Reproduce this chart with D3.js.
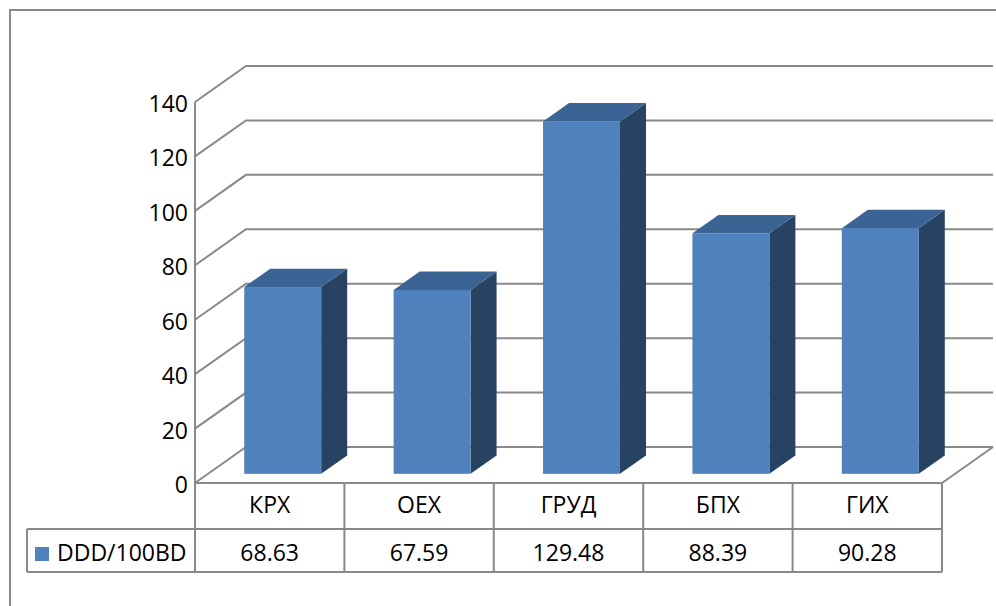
<!DOCTYPE html>
<html>
<head>
<meta charset="utf-8">
<script src="https://cdn.jsdelivr.net/npm/d3@7"></script>
<style>
  html, body { margin: 0; padding: 0; background: #fff; }
  svg { display: block; font-family: "Open Sans", "Liberation Sans", sans-serif; }
</style>
</head>
<body>
<svg id="chart" width="996" height="606"></svg>
<script>
// ---- data ----
const categories = ["КРХ", "ОЕХ", "ГРУД", "БПХ", "ГИХ"];
const seriesName = "DDD/100BD";
const values = [68.63, 67.59, 129.48, 88.39, 90.28];
const valueLabels = ["68.63", "67.59", "129.48", "88.39", "90.28"];
const yTicks = [0, 20, 40, 60, 80, 100, 120, 140];

// ---- layout ----
(function () {
const svg = d3.select("#chart");
const plotLeft = 195, plotRight = 942, plotBottom = 483, plotTop = 102;
const DX = 51, DY = 36;           // depth offset of the back wall
const t0 = 0.255, t1 = 0.765;     // bar front/back depth fractions
const gridColor = "#898989";
const fontSize = 23;

const x = d3.scaleBand().domain(categories).range([plotLeft, plotRight]).padding(0);
const y = d3.scaleLinear().domain([0, 140]).range([plotBottom, plotTop]);

// outer border
svg.append("path")
  .attr("d", `M10,${606 + 5} L10,10 L${996 + 5},10`)
  .attr("fill", "none").attr("stroke", gridColor).attr("stroke-width", 2);

// back wall gridlines and left wall diagonals
const grid = svg.append("g").attr("stroke", gridColor).attr("stroke-width", 2).attr("fill", "none");
yTicks.forEach(v => {
  const yy = y(v);
  grid.append("path")
    .attr("d", `M${plotLeft},${yy} L${plotLeft + DX},${yy - DY} L${plotRight + DX},${yy - DY}`);
});
grid.append("line")
  .attr("x1", plotRight).attr("y1", plotBottom).attr("x2", plotRight + DX).attr("y2", plotBottom - DY);
grid.append("line")
  .attr("x1", plotLeft).attr("y1", y(140)).attr("x2", plotLeft).attr("y2", 572);

// y tick labels
svg.append("g").selectAll("text").data(yTicks).join("text")
  .attr("x", plotLeft - 7)
  .attr("y", d => y(d) + 1)
  .attr("text-anchor", "end")
  .attr("dominant-baseline", "central")
  .attr("font-size", fontSize)
  .attr("fill", "#000")
  .text(d => d);

// bars
const barRatio = 0.515;
const bars = svg.append("g");
categories.forEach((c, i) => {
  const bw = x.bandwidth() * barRatio;
  const cx = x(c) + x.bandwidth() / 2;
  const fx0 = cx - bw / 2 + t0 * DX;
  const fx1 = fx0 + bw;
  const fyb = y(0) - t0 * DY;
  const fyt = y(values[i]) - t0 * DY;
  const ddx = (t1 - t0) * DX, ddy = (t1 - t0) * DY;
  bars.append("path")
    .attr("d", `M${fx1},${fyt} L${fx1 + ddx},${fyt - ddy} L${fx1 + ddx},${fyb - ddy} L${fx1},${fyb} Z`)
    .attr("fill", "#284262");
  bars.append("path")
    .attr("d", `M${fx0},${fyt} L${fx0 + ddx},${fyt - ddy} L${fx1 + ddx},${fyt - ddy} L${fx1},${fyt} Z`)
    .attr("fill", "#3B6494");
  bars.append("rect")
    .attr("x", fx0).attr("y", fyt)
    .attr("width", bw).attr("height", fyb - fyt)
    .attr("fill", "#4F81BD");
});

// data table
const row1 = plotBottom, row2 = 529, row3 = 572, tableLeft = 27;
const tbl = svg.append("g").attr("stroke", gridColor).attr("stroke-width", 2).attr("fill", "none");
tbl.append("line").attr("x1", plotLeft).attr("y1", row1).attr("x2", plotRight).attr("y2", row1);
tbl.append("line").attr("x1", tableLeft).attr("y1", row2).attr("x2", plotRight).attr("y2", row2);
tbl.append("line").attr("x1", tableLeft).attr("y1", row3).attr("x2", plotRight).attr("y2", row3);
tbl.append("line").attr("x1", tableLeft).attr("y1", row2).attr("x2", tableLeft).attr("y2", row3);
categories.forEach(c => {
  tbl.append("line").attr("x1", x(c) + x.bandwidth()).attr("y1", row1)
    .attr("x2", x(c) + x.bandwidth()).attr("y2", row3);
});

svg.append("g").selectAll("text").data(categories).join("text")
  .attr("x", d => x(d) + x.bandwidth() / 2)
  .attr("y", 513)
  .attr("text-anchor", "middle")
  .attr("font-size", fontSize)
  .text(d => d);

svg.append("g").selectAll("text").data(valueLabels).join("text")
  .attr("x", (d, i) => x(categories[i]) + x.bandwidth() / 2)
  .attr("y", 561)
  .attr("text-anchor", "middle")
  .attr("font-size", fontSize)
  .text(d => d);

// legend key in table
svg.append("rect").attr("x", 35).attr("y", 547).attr("width", 14).attr("height", 14).attr("fill", "#4F81BD");
svg.append("text").attr("x", 57).attr("y", 561).attr("font-size", fontSize).text(seriesName);
})();
</script>
</body>
</html>
